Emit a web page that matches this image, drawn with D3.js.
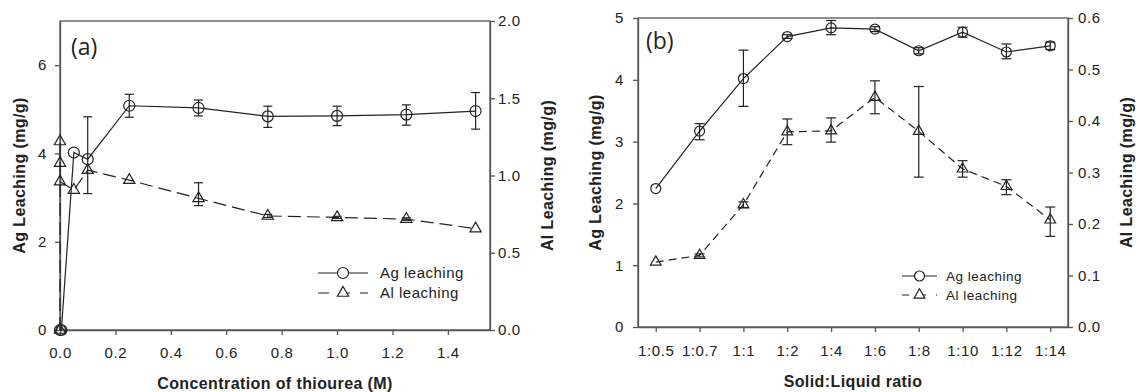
<!DOCTYPE html>
<html>
<head>
<meta charset="utf-8">
<script src="https://cdn.jsdelivr.net/npm/d3@7"></script>
<style>
body { margin: 0; background: #fff; }
text { font-family: "Liberation Sans", Arial, sans-serif; fill: #222; }
</style>
</head>
<body>
<svg id="chart" width="1138" height="392"></svg>
<script>
// (a) effect of thiourea concentration
var concAg = [0, 0.005, 0.05, 0.1, 0.25, 0.5, 0.75, 1.0, 1.25, 1.5];
var agA    = [0, 0, 4.02, 3.87, 5.08, 5.03, 4.84, 4.85, 4.88, 4.96];
var agALo  = [0, 0, 4.02, 3.09, 4.82, 4.85, 4.59, 4.63, 4.64, 4.55];
var agAHi  = [0, 0, 4.02, 4.83, 5.34, 5.21, 5.07, 5.07, 5.10, 5.38];

var concAl = [0, 0, 0, 0, 0.05, 0.1, 0.25, 0.5, 0.75, 1.0, 1.25, 1.5];
var alA    = [0, 1.22, 1.08, 0.96, 0.906, 1.035, 0.97, 0.852, 0.738, 0.729, 0.718, 0.656];
var alALo  = [0, 1.22, 1.08, 0.96, 0.906, 1.035, 0.97, 0.805, 0.728, 0.722, 0.710, 0.656];
var alAHi  = [0, 1.22, 1.08, 0.96, 0.906, 1.035, 0.97, 0.953, 0.748, 0.736, 0.726, 0.656];

// (b) effect of solid:liquid ratio
var ratios = ["1:0.5", "1:0.7", "1:1", "1:2", "1:4", "1:6", "1:8", "1:10", "1:12", "1:14"];
var agB    = [2.24, 3.17, 4.02, 4.70, 4.84, 4.82, 4.47, 4.77, 4.45, 4.55];
var agBLo  = [2.24, 3.03, 3.57, 4.67, 4.73, 4.78, 4.42, 4.69, 4.34, 4.49];
var agBHi  = [2.24, 3.29, 4.48, 4.73, 4.96, 4.86, 4.52, 4.85, 4.58, 4.61];
var alB    = [0.126, 0.139, 0.2375, 0.379, 0.381, 0.446, 0.38, 0.307, 0.273, 0.208];
var alBLo  = [0.126, 0.136, 0.232, 0.354, 0.359, 0.414, 0.291, 0.291, 0.257, 0.176];
var alBHi  = [0.126, 0.142, 0.243, 0.404, 0.406, 0.478, 0.467, 0.323, 0.286, 0.233];

var ticksA = [0, 0.2, 0.4, 0.6, 0.8, 1.0, 1.2, 1.4];
var ticksAgA = [0, 2, 4, 6];
var ticksAlA = [0, 0.5, 1.0, 1.5, 2.0];
var ticksAgB = [0, 1, 2, 3, 4, 5];
var ticksAlB = [0, 0.1, 0.2, 0.3, 0.4, 0.5, 0.6];

var svg = d3.select("#chart");
var axisColor = "#555";
var font = "'Liberation Sans', Arial, sans-serif";

function zip(xs, v, lo, hi) {
    return xs.map(function(d, i) { return {x: d, v: v[i], lo: lo[i], hi: hi[i]}; });
}

function drawPanel(o) {
    var g = svg.append("g");

    // frame
    g.append("rect")
        .attr("x", o.left).attr("y", o.top)
        .attr("width", o.right - o.left).attr("height", o.bottom - o.top)
        .attr("fill", "none").attr("stroke", axisColor).attr("stroke-width", 1.3);

    var xAxis = g.append("g")
        .attr("transform", "translate(0," + o.bottom + ")")
        .call(d3.axisBottom(o.x).tickValues(o.xTicks).tickFormat(o.xFormat)
            .tickSize(5).tickSizeOuter(0).tickPadding(o.xPad));

    var lAxis = g.append("g")
        .attr("transform", "translate(" + o.left + ",0)")
        .call(d3.axisLeft(o.yL).tickValues(o.yLTicks).tickFormat(d3.format(o.yLFmt))
            .tickSize(5).tickSizeOuter(0).tickPadding(o.yLPad));

    var rAxis = g.append("g")
        .attr("transform", "translate(" + o.right + ",0)")
        .call(d3.axisRight(o.yR).tickValues(o.yRTicks).tickFormat(d3.format(o.yRFmt))
            .tickSize(5).tickSizeOuter(0).tickPadding(o.yRPad));

    [xAxis, lAxis, rAxis].forEach(function(a) {
        a.attr("font-family", font).attr("font-size", 15);
        a.select(".domain").attr("stroke", axisColor).attr("stroke-width", 1.3);
        a.selectAll(".tick line").attr("stroke", axisColor).attr("stroke-width", 1.3);
        a.selectAll(".tick text")
            .style("letter-spacing", "0.6px")
            .attr("fill", "#222");
    });

    // axis titles
    g.append("text")
        .attr("x", (o.left + o.right) / 2).attr("y", o.titleY)
        .attr("text-anchor", "middle")
        .style("font-size", "16px").style("font-weight", "bold").style("letter-spacing", "0.4px")
        .text(o.xTitle);

    g.append("text")
        .attr("transform", "translate(" + o.lTitleX + "," + ((o.top + o.bottom) / 2) + ") rotate(-90)")
        .attr("text-anchor", "middle")
        .style("font-size", "16px").style("font-weight", "bold").style("letter-spacing", "0.4px")
        .text("Ag Leaching (mg/g)");

    g.append("text")
        .attr("transform", "translate(" + o.rTitleX + "," + ((o.top + o.bottom) / 2) + ") rotate(-90)")
        .attr("text-anchor", "middle")
        .style("font-size", "16px").style("font-weight", "bold").style("letter-spacing", "0.4px")
        .text("Al Leaching (mg/g)");

    // panel label
    g.append("text")
        .attr("x", o.tagX).attr("y", o.tagY)
        .style("font-family", "'Open Sans', 'Noto Sans', sans-serif")
        .style("font-size", "23px")
        .text(o.tag);

    o.series.forEach(function(s) {
        var y = s.axis === "L" ? o.yL : o.yR;
        var line = d3.line()
            .x(function(d) { return o.x(d.x); })
            .y(function(d) { return y(d.v); });

        g.append("path")
            .datum(s.data)
            .attr("d", line)
            .attr("fill", "none")
            .attr("stroke", "#222")
            .attr("stroke-width", 1.2)
            .attr("stroke-dasharray", s.dash);

        // error bars
        var eb = g.selectAll(null)
            .data(s.data.filter(function(d) { return d.hi - d.lo > 0; }))
            .enter().append("g")
            .attr("stroke", "#222").attr("stroke-width", 1.2);
        eb.append("line")
            .attr("x1", function(d) { return o.x(d.x); })
            .attr("x2", function(d) { return o.x(d.x); })
            .attr("y1", function(d) { return y(d.lo); })
            .attr("y2", function(d) { return y(d.hi); });
        [function(d) { return y(d.lo); }, function(d) { return y(d.hi); }].forEach(function(fy) {
            eb.append("line")
                .attr("x1", function(d) { return o.x(d.x) - o.cap; })
                .attr("x2", function(d) { return o.x(d.x) + o.cap; })
                .attr("y1", fy).attr("y2", fy);
        });

        var sym = d3.symbol()
            .type(s.marker === "circle" ? d3.symbolCircle : d3.symbolTriangle)
            .size(s.marker === "circle" ? Math.PI * o.r * o.r : o.triSize);

        g.selectAll(null)
            .data(s.data)
            .enter().append("path")
            .attr("d", sym)
            .attr("transform", function(d) { return "translate(" + o.x(d.x) + "," + y(d.v) + ")"; })
            .attr("fill", "none")
            .attr("stroke", "#222")
            .attr("stroke-width", 1.2);
    });

    // legend
    var lg = o.legend;
    o.series.forEach(function(s, i) {
        var ly = lg.y + i * lg.gap;
        g.append("line")
            .attr("x1", lg.x1).attr("x2", lg.x2).attr("y1", ly).attr("y2", ly)
            .attr("stroke", "#222").attr("stroke-width", 1.2)
            .attr("stroke-dasharray", s.legendDash);
        var sym = d3.symbol()
            .type(s.marker === "circle" ? d3.symbolCircle : d3.symbolTriangle)
            .size(s.marker === "circle" ? Math.PI * o.r * o.r : o.triSize);
        g.append("path")
            .attr("d", sym)
            .attr("transform", "translate(" + ((lg.x1 + lg.x2) / 2) + "," + ly + ")")
            .attr("fill", "#fff").attr("stroke", "#222").attr("stroke-width", 1.2);
        g.append("text")
            .attr("x", lg.tx).attr("y", ly).attr("dy", "0.35em")
            .style("font-size", lg.font).style("letter-spacing", "0.5px")
            .text(s.name);
    });
}

// panel (a)
drawPanel({
    left: 60, right: 490, top: 21, bottom: 330,
    x: d3.scaleLinear().domain([0, 1.552]).range([60, 490]),
    xTicks: ticksA, xFormat: d3.format(".1f"), xPad: 12,
    yL: d3.scaleLinear().domain([0, 7]).range([330, 21]),
    yR: d3.scaleLinear().domain([0, 2]).range([330, 21]),
    yLTicks: ticksAgA, yLFmt: "d", yLPad: 8,
    yRTicks: ticksAlA, yRFmt: ".1f", yRPad: 3,
    xTitle: "Concentration of thiourea (M)", titleY: 389,
    lTitleX: 25, rTitleX: 553,
    tag: "(a)", tagX: 71, tagY: 55,
    r: 5.5, triSize: 55, cap: 4.5,
    series: [
        {name: "Ag leaching", axis: "L", marker: "circle", dash: null, legendDash: null,
         data: zip(concAg, agA, agALo, agAHi)},
        {name: "Al leaching", axis: "R", marker: "triangle", dash: "13,6", legendDash: "11,10",
         data: zip(concAl, alA, alALo, alAHi)}
    ],
    legend: {x1: 318, x2: 368, tx: 380, y: 273, gap: 20, font: "15px"}
});

// panel (b)
drawPanel({
    left: 638, right: 1068, top: 18, bottom: 327,
    x: d3.scalePoint().domain(ratios).range([638, 1068]).padding(0.405),
    xTicks: ratios, xFormat: function(d) { return d; }, xPad: 13,
    yL: d3.scaleLinear().domain([0, 5]).range([327, 18]),
    yR: d3.scaleLinear().domain([0, 0.6]).range([327, 18]),
    yLTicks: ticksAgB, yLFmt: "d", yLPad: 9,
    yRTicks: ticksAlB, yRFmt: ".1f", yRPad: 5,
    xTitle: "Solid:Liquid ratio", titleY: 387,
    lTitleX: 601, rTitleX: 1132,
    tag: "(b)", tagX: 646, tagY: 49,
    r: 5, triSize: 50, cap: 5,
    series: [
        {name: "Ag leaching", axis: "L", marker: "circle", dash: null, legendDash: null,
         data: zip(ratios, agB, agBLo, agBHi)},
        {name: "Al leaching", axis: "R", marker: "triangle", dash: "8,5", legendDash: "7,10",
         data: zip(ratios, alB, alBLo, alBHi)}
    ],
    legend: {x1: 902, x2: 937, tx: 946, y: 276, gap: 19, font: "13.5px"}
});
</script>
</body>
</html>
